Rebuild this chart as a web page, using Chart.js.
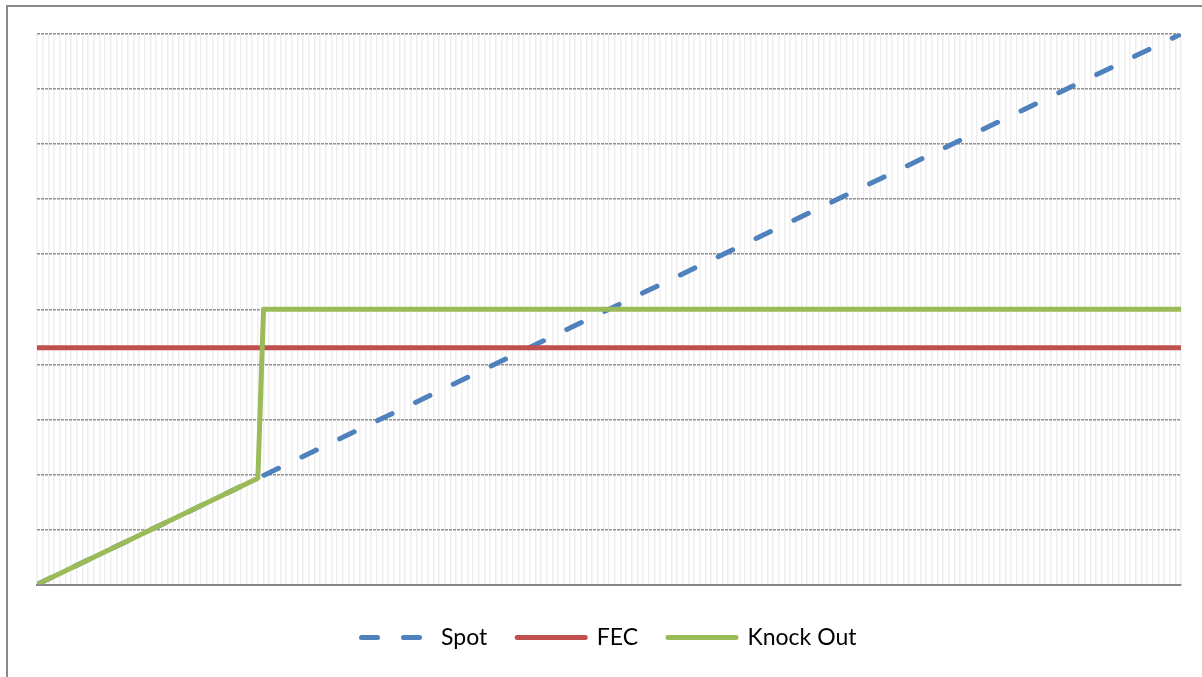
<!DOCTYPE html>
<html>
<head>
<meta charset="utf-8">
<script src="https://cdn.jsdelivr.net/npm/chart.js@4/dist/chart.umd.min.js"></script>
<style>
  html, body { margin: 0; padding: 0; background: #ffffff; overflow: hidden; }
  #wrap { position: relative; width: 1202px; height: 677px; }
  #frame { position: absolute; left: 6px; top: 5px; width: 1300px; height: 800px; border: 2px solid #8a8a8a; box-sizing: border-box; }
  #c { position: absolute; left: 0; top: 0; }
</style>
</head>
<body>
<div id="wrap">
  <div id="frame"></div>
  <canvas id="c" width="1202" height="677"></canvas>
</div>
<script>
// Series data (x = category index along the hidden x axis, y = value on 0-100 scale)
const seriesNames = ['Spot', 'FEC', 'Knock Out'];
const spotX = [0, 202];
const spotY = [0, 100];
const fecX = [0, 202];
const fecY = [43, 43];
const knockOutX = [0, 39, 40, 202];
const knockOutY = [0, 19.3, 50, 50];
// Axis ranges
const xMin = 0, xMax = 202, xStep = 1;
const yMin = 0, yMax = 100, yStep = 10;

const toPoints = (xs, ys) => xs.map((x, i) => ({ x: x, y: ys[i] }));

const ctx = document.getElementById('c').getContext('2d');
new Chart(ctx, {
  type: 'line',
  data: {
    datasets: [
      {
        label: seriesNames[0],
        data: toPoints(spotX, spotY),
        borderColor: '#4F81BD',
        backgroundColor: '#4F81BD',
        borderWidth: 5,
        borderDash: [16, 26],
        borderCapStyle: 'round',
        pointRadius: 0,
        order: 3
      },
      {
        label: seriesNames[1],
        data: toPoints(fecX, fecY),
        borderColor: '#C0504D',
        backgroundColor: '#C0504D',
        borderWidth: 5,
        borderCapStyle: 'round',
        pointRadius: 0,
        order: 2
      },
      {
        label: seriesNames[2],
        data: toPoints(knockOutX, knockOutY),
        borderColor: '#9BBB59',
        backgroundColor: '#9BBB59',
        borderWidth: 5,
        borderCapStyle: 'round',
        borderJoinStyle: 'round',
        pointRadius: 0,
        order: 1
      }
    ]
  },
  options: {
    responsive: false,
    animation: false,
    devicePixelRatio: 1,
    layout: { padding: { left: 37, right: 21, top: 34, bottom: 18 } },
    plugins: {
      tooltip: { enabled: false },
      legend: {
        position: 'bottom',
        labels: {
          usePointStyle: true,
          pointStyle: 'line',
          pointStyleWidth: 68,
          padding: 30,
          color: '#000000',
          font: { family: 'Lato, "Open Sans", sans-serif', size: 23 },
          sort: (a, b) => a.datasetIndex - b.datasetIndex,
          generateLabels: (chart) => {
            const items = Chart.defaults.plugins.legend.labels.generateLabels(chart);
            items.forEach((it) => {
              const ds = chart.data.datasets[it.datasetIndex];
              it.lineDash = ds.borderDash || [];
              it.lineCap = 'round';
              it.lineWidth = 5;
              it.strokeStyle = ds.borderColor;
            });
            return items;
          }
        }
      }
    },
    scales: {
      x: {
        type: 'linear',
        min: xMin,
        max: xMax,
        ticks: { display: false, stepSize: xStep },
        grid: { color: '#eeeeee', lineWidth: 1.5, drawTicks: false },
        border: { display: true, color: '#868686', width: 2 },
        afterFit: (scale) => { scale.height = 11.5; }
      },
      y: {
        min: yMin,
        max: yMax,
        ticks: { display: false, stepSize: yStep },
        grid: { color: '#929292', lineWidth: 1.5, drawTicks: false },
        border: { display: false, dash: [3, 1] }
      }
    }
  }
});
</script>
</body>
</html>
